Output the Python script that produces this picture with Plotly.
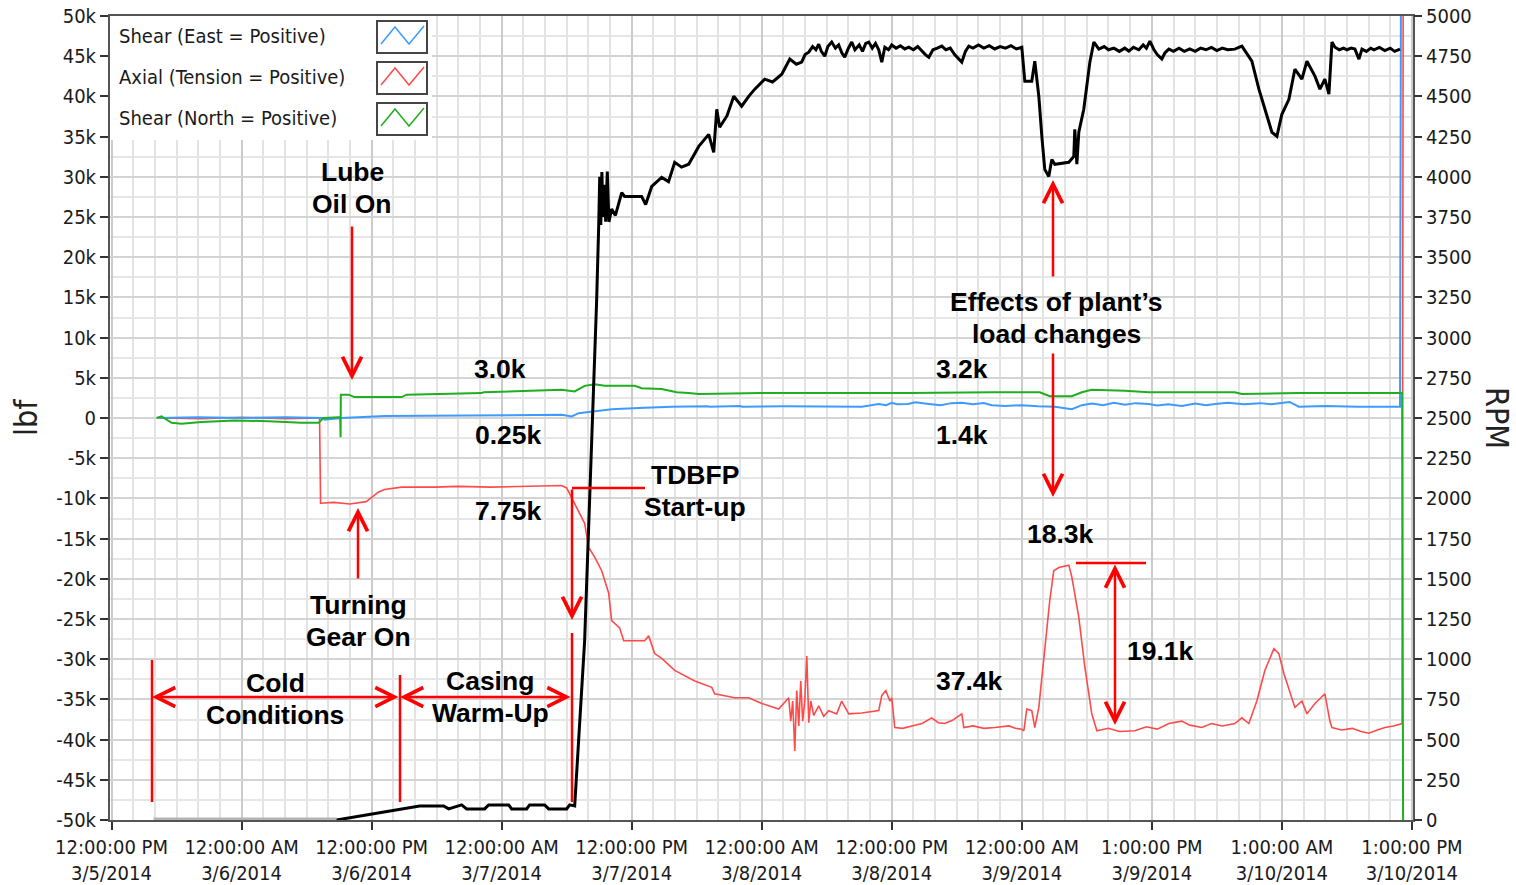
import plotly.graph_objects as go

# ---------------- data (hours since 12:00 PM 3/5/2014) ----------------
rpm_hours = [3.88, 20.77, 28.43, 30.65, 31.11, 32.31, 32.77, 34.43, 34.8, 36.65, 36.92, 38.31, 38.58, 39.97,
             40.34, 42.0, 42.28, 42.74, 43.66, 44.77, 44.85, 44.96, 45.05, 45.15, 45.25, 45.35, 45.5, 45.6,
             45.75, 45.9, 46.15, 46.5, 47.08, 47.35, 48.92, 49.29, 49.85, 50.77, 51.4, 51.97, 52.6, 53.26,
             54.19, 55.11, 55.57, 55.85, 56.12, 56.8, 57.42, 58.15, 58.8, 59.36, 60.28, 61.0, 61.85, 62.59,
             63.2,
             63.69, 64.0, 64.34, 64.7, 65.0, 65.26, 65.5, 65.82, 66.1, 66.46, 66.8, 67.1, 67.4, 67.66,
             68.0, 68.31, 68.6, 69.0, 69.3, 69.6, 69.88, 70.2, 70.5, 70.8, 71.08, 71.36, 71.7, 72.0,
             72.4, 72.8, 73.2, 73.57, 74.0, 74.4, 74.8, 75.1, 75.42, 75.8, 76.2, 76.62, 77.0, 77.4,
             77.8, 78.1, 78.46, 78.8, 79.11, 79.5, 80.0, 80.5, 81.0, 81.5, 82.0, 82.5, 83.0, 83.5, 84.0,
             84.28, 84.92, 85.2, 85.57, 85.85, 86.12, 86.49, 86.77, 87.05, 88.34, 88.8, 88.89, 89.08,
             89.26, 89.72, 90.0, 90.28, 90.65,
             91.11, 91.6, 92.0, 92.5, 93.0, 93.5, 93.88, 94.3, 94.8, 95.2, 95.5, 95.82, 96.2, 96.5,
             96.92, 97.2, 97.57, 98.0, 98.5, 99.0, 99.5, 100.0, 100.5, 101.0, 101.5, 102.0, 102.5,
             103.0, 103.66, 104.31,
             105.23, 105.88, 106.43, 107.08, 107.54, 108.0, 108.65, 109.2, 109.85, 110.31, 111.05,
             111.51, 111.97, 112.34, 112.62,
             112.9, 113.3, 113.7, 114.0, 114.4, 114.74, 115.11, 115.39, 115.8, 116.2, 116.5, 117.0,
             117.5, 118.0, 118.4, 118.9]
rpm_values = [0, 0, 87, 87, 69, 94, 69, 69, 94, 94, 69, 69, 94, 94,
              69, 69, 94, 87, 1116, 3235, 3535, 3703, 4000, 3700, 4030, 3750, 3950, 3720,
              4033, 3720, 3800, 3760, 3902, 3878, 3878, 3828, 3940, 3996, 3970, 4090, 4060, 4078,
              4189, 4264, 4152, 4420, 4308, 4380, 4501, 4439, 4500, 4545, 4607, 4590, 4638, 4732,
              4700,
              4713, 4760, 4775, 4810, 4790, 4825, 4780, 4750, 4810, 4838, 4800, 4820, 4770, 4744,
              4800, 4838, 4790, 4820, 4780, 4830, 4838, 4800, 4830, 4790, 4713, 4806, 4790, 4820,
              4800, 4815, 4795, 4806, 4790, 4810, 4780, 4760, 4744, 4790, 4800, 4813, 4790, 4800,
              4760, 4740, 4713, 4780, 4813, 4800, 4820, 4800, 4815, 4795, 4810, 4800, 4815, 4795, 4806,
              4594, 4594, 4719, 4501, 4252, 4046, 4002, 4108, 4078, 4090, 4127, 4295, 4078,
              4277, 4420, 4563, 4713, 4838,
              4794, 4810, 4790, 4800, 4780, 4800, 4782, 4805, 4790, 4820, 4800, 4844, 4790, 4760,
              4732, 4770, 4794, 4780, 4800, 4780, 4795, 4780, 4800, 4790, 4805, 4785, 4800,
              4790, 4794, 4813,
              4719, 4545, 4420, 4277, 4252, 4389, 4482, 4669, 4607, 4719, 4626,
              4545, 4607, 4514, 4838,
              4806, 4790, 4800, 4790, 4800, 4794, 4732, 4794, 4780, 4800, 4790, 4805,
              4785, 4800, 4780, 4794]

axial_hours = [4.34, 8.3, 12.0, 16.0, 19.2, 19.29, 20.5, 22.0, 23.5, 24.0, 24.65, 25.2, 26.77, 29.82,
               32.0, 35.0, 38.0, 40.0, 41.54, 42.0, 42.19, 42.46, 42.74, 43.66, 44.03, 44.59, 45.23,
               45.88, 46.15, 46.89, 47.26, 49.2, 49.57, 50.12, 50.77, 51.97, 53.82, 55.39, 55.66, 57.51,
               58.8, 60.0, 61.57, 62.49, 62.68, 62.86, 63.05, 63.23, 63.42, 63.6, 63.78, 63.97, 64.16,
               64.34, 64.53, 64.8, 65.26, 65.72, 66.19, 66.92, 67.38, 68.03, 69.23, 70.8, 71.08, 71.45,
               71.82, 72.0, 72.28, 73.0, 73.85, 74.8, 75.69, 76.3, 76.89, 77.6, 78.46, 78.65, 79.5,
               80.5, 81.51, 82.8, 83.4, 84.0, 84.19, 84.46, 84.92, 85.2, 85.57, 86.12, 86.58, 86.95,
               87.42, 88.34, 88.62, 89.26, 89.82, 90.46, 90.93, 92.0, 93.0, 94.43, 95.5, 96.5, 97.57,
               98.77, 99.5, 100.62, 101.5, 102.5, 103.66, 104.31, 104.95, 105.69, 106.43, 107.26,
               107.72, 108.19, 108.92, 109.2, 109.85, 110.31, 111.05, 111.97, 112.43, 112.62, 113.5,
               114.5, 115.3, 116.03, 116.8, 117.51, 118.3, 119.1, 119.2]
axial_klbf = [0.0, -0.1, 0.1, -0.1, 0.0, -10.6, -10.5, -10.7, -10.4, -9.9, -9.2, -8.9, -8.6, -8.6,
              -8.5, -8.6, -8.55, -8.5, -8.4, -8.7, -9.2, -9.9, -10.6, -13.1, -16.1, -17.3, -19.0,
              -21.8, -25.2, -26.1, -27.7, -27.7, -27.1, -29.3, -29.9, -31.4, -32.7, -33.5, -34.3, -34.8,
              -34.8, -35.5, -36.2, -34.8, -37.7, -35.2, -41.4, -33.9, -38.3, -32.7, -37.7, -35.2, -29.6,
              -37.9, -35.2, -37.0, -35.8, -37.1, -36.4, -36.8, -35.2, -36.8, -36.7, -36.4, -34.5, -33.9,
              -35.2, -34.8, -38.5, -38.6, -38.3, -38.0, -37.3, -37.9, -38.0, -37.6, -36.8, -38.5, -38.3,
              -38.6, -38.5, -38.3, -38.6, -38.7, -38.9, -36.2, -36.4, -38.5, -36.0, -28.9, -22.7, -19.0,
              -18.6, -18.3, -19.8, -24.8, -31.0, -36.8, -38.9, -38.6, -39.0, -38.9, -38.4, -38.7, -38.0,
              -37.7, -38.2, -38.5, -38.0, -38.3, -38.0, -37.3, -38.0, -35.2, -31.4, -28.7,
              -29.3, -31.8, -34.8, -36.0, -35.2, -36.8, -35.5, -34.3, -37.7, -38.5, -38.8,
              -38.6, -39.0, -39.2, -38.8, -38.5, -38.3, -38.0, 60.0]

shear_east_hours = [4.34, 8.0, 12.0, 16.0, 19.57, 19.66, 21.23, 23.72, 25.2, 41.54, 42.46, 43.11, 44.03,
                    44.59, 46.15, 48.65, 51.69, 55.0, 55.2, 58.0, 58.2, 62.0, 66.0, 69.23, 70.8, 71.5,
                    72.0, 72.5, 73.5, 74.2, 75.42, 76.5, 77.5, 78.46, 79.5, 80.5, 81.23, 82.5, 84.0, 85.5,
                    87.05, 88.62, 89.54, 90.5, 91.5, 92.5, 93.5, 94.5, 95.72, 96.5, 97.5, 98.77, 100.0,
                    101.0, 101.82, 103.0, 104.5, 106.0, 107.0, 108.0, 108.7, 109.57, 112.0, 115.0, 118.9,
                    119.0]
shear_east_klbf = [0.0, 0.1, 0.0, 0.1, 0.0, -0.2, 0.0, 0.1, 0.25, 0.4, 0.2, 0.6, 0.75,
                   0.9, 1.1, 1.25, 1.4, 1.45, 1.4, 1.5, 1.4, 1.45, 1.4, 1.4, 1.75, 1.6,
                   1.9, 1.7, 1.75, 1.95, 1.75, 1.6, 1.85, 1.9, 1.7, 1.85, 1.6, 1.5, 1.6, 1.45,
                   1.4, 1.1, 1.6, 1.8, 1.6, 1.9, 1.65, 1.85, 1.75, 1.55, 1.7, 1.5, 1.8,
                   1.6, 1.75, 1.9, 1.7, 1.85, 1.7, 1.9, 2.0, 1.4, 1.5, 1.4, 1.4,
                   60.0]

shear_north_hours = [4.15, 4.62, 5.54, 6.46, 8.31, 11.35, 14.49, 17.54, 19.11, 19.57, 20.95, 21.1, 21.14,
                     21.16, 21.88, 22.43, 23.72, 26.77, 27.23, 34.15, 34.34, 41.54, 42.74, 43.66, 44.59,
                     45.51, 48.28, 48.92, 50.77, 52.15, 53.26, 54.19, 60.0, 73.57, 81.23, 85.66, 86.58,
                     88.62, 89.54, 90.46, 93.51, 95.72, 103.66, 104.31, 109.57, 119.1, 119.2]
shear_north_klbf = [0.0, 0.2, -0.6, -0.7, -0.5, -0.3, -0.4, -0.6, -0.6, 0.0, 0.1, 0.1, -2.4,
                    2.9, 2.9, 2.6, 2.6, 2.6, 2.9, 3.1, 3.2, 3.5, 3.3, 4.0, 4.2,
                    4.0, 4.0, 3.7, 3.6, 3.2, 3.1, 3.0, 3.1, 3.1, 3.2, 3.2, 2.7,
                    2.7, 3.2, 3.5, 3.4, 3.2, 3.2, 3.0, 3.1, 3.1, -60.0]

x_tick_hours = [0, 12, 24, 36, 48, 60, 72, 84, 96, 108, 120]
x_tick_labels = ["12:00:00 PM<br>3/5/2014", "12:00:00 AM<br>3/6/2014", "12:00:00 PM<br>3/6/2014",
                 "12:00:00 AM<br>3/7/2014", "12:00:00 PM<br>3/7/2014", "12:00:00 AM<br>3/8/2014",
                 "12:00:00 PM<br>3/8/2014", "12:00:00 AM<br>3/9/2014", "1:00:00 PM<br>3/9/2014",
                 "1:00:00 AM<br>3/10/2014", "1:00:00 PM<br>3/10/2014"]
lbf_tick_values = list(range(-50, 55, 5))
lbf_tick_labels = [("%dk" % v if v != 0 else "0") for v in lbf_tick_values]
rpm_tick_values = list(range(0, 5001, 250))
rpm_tick_labels = [str(v) for v in rpm_tick_values]

series_names = ["Shear (East = Positive)", "Axial (Tension = Positive)", "Shear (North = Positive)"]
series_colors = ["#3d9bff", "#ff4a4a", "#1fae1f"]

for a, b in [(rpm_hours, rpm_values), (axial_hours, axial_klbf),
             (shear_east_hours, shear_east_klbf), (shear_north_hours, shear_north_klbf)]:
    assert len(a) == len(b), (len(a), len(b))

# ---------------- layout geometry ----------------
W, H = 1516, 885
L, R, T, B = 110, 1413, 16, 820
TICK_FONT = "DejaVu Sans Condensed, Liberation Sans, Arial, sans-serif"
BOLD_FONT = "Liberation Sans, Arial, sans-serif"


def pp(x, y):
    return (x - L) / (R - L), (B - y) / (B - T)


fig = go.Figure()
fig.add_trace(go.Scatter(x=axial_hours, y=axial_klbf, mode="lines", name=series_names[1],
                         line=dict(color=series_colors[1], width=1.6), showlegend=False))
fig.add_trace(go.Scatter(x=shear_east_hours, y=shear_east_klbf, mode="lines", name=series_names[0],
                         line=dict(color=series_colors[0], width=2), showlegend=False))
fig.add_trace(go.Scatter(x=shear_north_hours, y=shear_north_klbf, mode="lines", name=series_names[2],
                         line=dict(color=series_colors[2], width=2), showlegend=False))
# RPM: the stand-still period (0 RPM) is drawn grey, the rest black
fig.add_trace(go.Scatter(x=rpm_hours[:2], y=rpm_values[:2], mode="lines", name="RPM idle", yaxis="y2",
                         line=dict(color="#b4b4b4", width=5), showlegend=False))
fig.add_trace(go.Scatter(x=rpm_hours[1:], y=rpm_values[1:], mode="lines", name="RPM", yaxis="y2",
                         line=dict(color="black", width=3), showlegend=False))

shapes = []
annotations = []

# legend box (manual, symbol on the right)
x0, y0 = pp(110, 16)
x1, y1 = pp(432, 140)
shapes.append(dict(type="rect", xref="paper", yref="paper", x0=x0, y0=y1, x1=x1, y1=y0,
                   fillcolor="white", line=dict(width=0), layer="above"))
for i, (nm, col) in enumerate(zip(series_names, series_colors)):
    top = 21 + i * 41
    bx0, by0 = pp(377, top)
    bx1, by1 = pp(427, top + 32)
    shapes.append(dict(type="rect", xref="paper", yref="paper", x0=bx0, y0=by1, x1=bx1, y1=by0,
                       fillcolor="white", line=dict(color="#454545", width=2), layer="above"))
    pts = [pp(381, top + 23), pp(395, top + 6), pp(409, top + 23), pp(424, top + 5)]
    path = "M " + " L ".join("%.5f,%.5f" % p for p in pts)
    shapes.append(dict(type="path", xref="paper", yref="paper", path=path,
                       line=dict(color=col, width=1.5), layer="above"))
    tx, ty = pp(117, 36 + i * 41)
    annotations.append(dict(x=tx, y=ty, xref="paper", yref="paper", text=nm, showarrow=False,
                            xanchor="left", yanchor="middle",
                            font=dict(family=TICK_FONT, size=20, color="#1a1a1a")))


def label(text, x, y, size=26.5):
    px_, py_ = pp(x, y)
    annotations.append(dict(x=px_, y=py_, xref="paper", yref="paper", text="<b>%s</b>" % text,
                            showarrow=False, xanchor="center", yanchor="middle",
                            font=dict(family=BOLD_FONT, size=size, color="black")))


def label2(line1, line2, x, y1_, y2_):
    label(line1, x, y1_)
    label(line2, x, y2_)


def arrow(tip, tail, both=False):
    tx, ty = pp(*tip)
    annotations.append(dict(x=tx, y=ty, xref="paper", yref="paper", text="", showarrow=True,
                            ax=tail[0] - tip[0], ay=tail[1] - tip[1],
                            arrowhead=5, arrowsize=1.5, arrowwidth=2.5, arrowcolor="red",
                            startarrowhead=5, startarrowsize=1.5,
                            arrowside="end+start" if both else "end"))


def rline(a, b):
    ax_, ay_ = pp(*a)
    bx_, by_ = pp(*b)
    shapes.append(dict(type="line", xref="paper", yref="paper", x0=ax_, y0=ay_, x1=bx_, y1=by_,
                       line=dict(color="red", width=2.5), layer="above"))


# annotations
label2("Lube", "Oil On", 352, 172, 204)
arrow((352, 380), (352, 225))
label("3.0k", 500, 369)
label("0.25k", 508, 435)
label("7.75k", 508, 511)
label2("Turning", "Gear On", 358, 605, 637)
arrow((358, 508), (358, 580))
label2("TDBFP", "Start-up", 695, 475, 507)
rline((645, 488), (572, 488))
arrow((572, 620), (572, 488))
label2("Cold", "Conditions", 275, 683, 715)
label2("Casing", "Warm-Up", 490, 681, 713)
rline((152, 660), (152, 802))
rline((400, 675), (400, 802))
rline((572, 633), (572, 802))
arrow((152, 697), (400, 697), both=True)
arrow((400, 697), (572, 697), both=True)
label2("Effects of plant’s", "load changes", 1056, 302, 334)
arrow((1053, 180), (1053, 278))
arrow((1053, 497), (1053, 352))
label("3.2k", 962, 369)
label("1.4k", 962, 435)
label("37.4k", 969, 681)
label("18.3k", 1060, 534)
label("19.1k", 1160, 651)
rline((1076, 563), (1146, 563))
arrow((1115, 725), (1115, 563), both=True)

# axis titles
lx, ly = pp(26, 418)
annotations.append(dict(x=lx, y=ly, xref="paper", yref="paper", text="lbf", showarrow=False,
                        textangle=-90, xanchor="center", yanchor="middle",
                        font=dict(family=TICK_FONT, size=32, color="#222")))
rx, ry = pp(1497, 418)
annotations.append(dict(x=rx, y=ry, xref="paper", yref="paper", text="RPM", showarrow=False,
                        textangle=90, xanchor="center", yanchor="middle",
                        font=dict(family=TICK_FONT, size=32, color="#222")))

tickfont = dict(family=TICK_FONT, size=20, color="#1a1a1a")
fig.update_layout(
    width=W, height=H,
    margin=dict(l=L, r=W - R, t=T, b=H - B, pad=0, autoexpand=False),
    paper_bgcolor="white", plot_bgcolor="white",
    showlegend=False,
    shapes=shapes, annotations=annotations,
    xaxis=dict(range=[-0.14, 120.1], tickmode="array", tickvals=x_tick_hours, ticktext=x_tick_labels,
               showgrid=True, gridcolor="#cbcbcb", gridwidth=1.5, automargin=False,
               minor=dict(tickmode="linear", tick0=0, dtick=2, showgrid=True, gridcolor="#e3e3e3",
                          gridwidth=1.5),
               ticks="outside", ticklen=8, tickwidth=1.5, tickcolor="#333",
               showline=True, mirror=True, linecolor="#555", linewidth=2,
               tickfont=tickfont, zeroline=False),
    yaxis=dict(range=[-50, 50], tickmode="array", tickvals=lbf_tick_values, ticktext=lbf_tick_labels,
               showgrid=True, gridcolor="#d3d3d3", gridwidth=1.5, automargin=False,
               minor=dict(tickmode="linear", tick0=0, dtick=2.5, showgrid=True, gridcolor="#e6e6e6",
                          gridwidth=1.5),
               ticks="outside", ticklen=8, tickwidth=1.5, tickcolor="#333",
               showline=True, mirror=True, linecolor="#555", linewidth=2,
               tickfont=tickfont, zeroline=False),
    yaxis2=dict(range=[0, 5000], overlaying="y", side="right", tickmode="array", automargin=False,
                tickvals=rpm_tick_values, ticktext=rpm_tick_labels, showgrid=False, zeroline=False,
                ticks="outside", ticklen=8, tickwidth=1.5, tickcolor="#333",
                tickfont=tickfont),
)

fig.write_html("out.html")
